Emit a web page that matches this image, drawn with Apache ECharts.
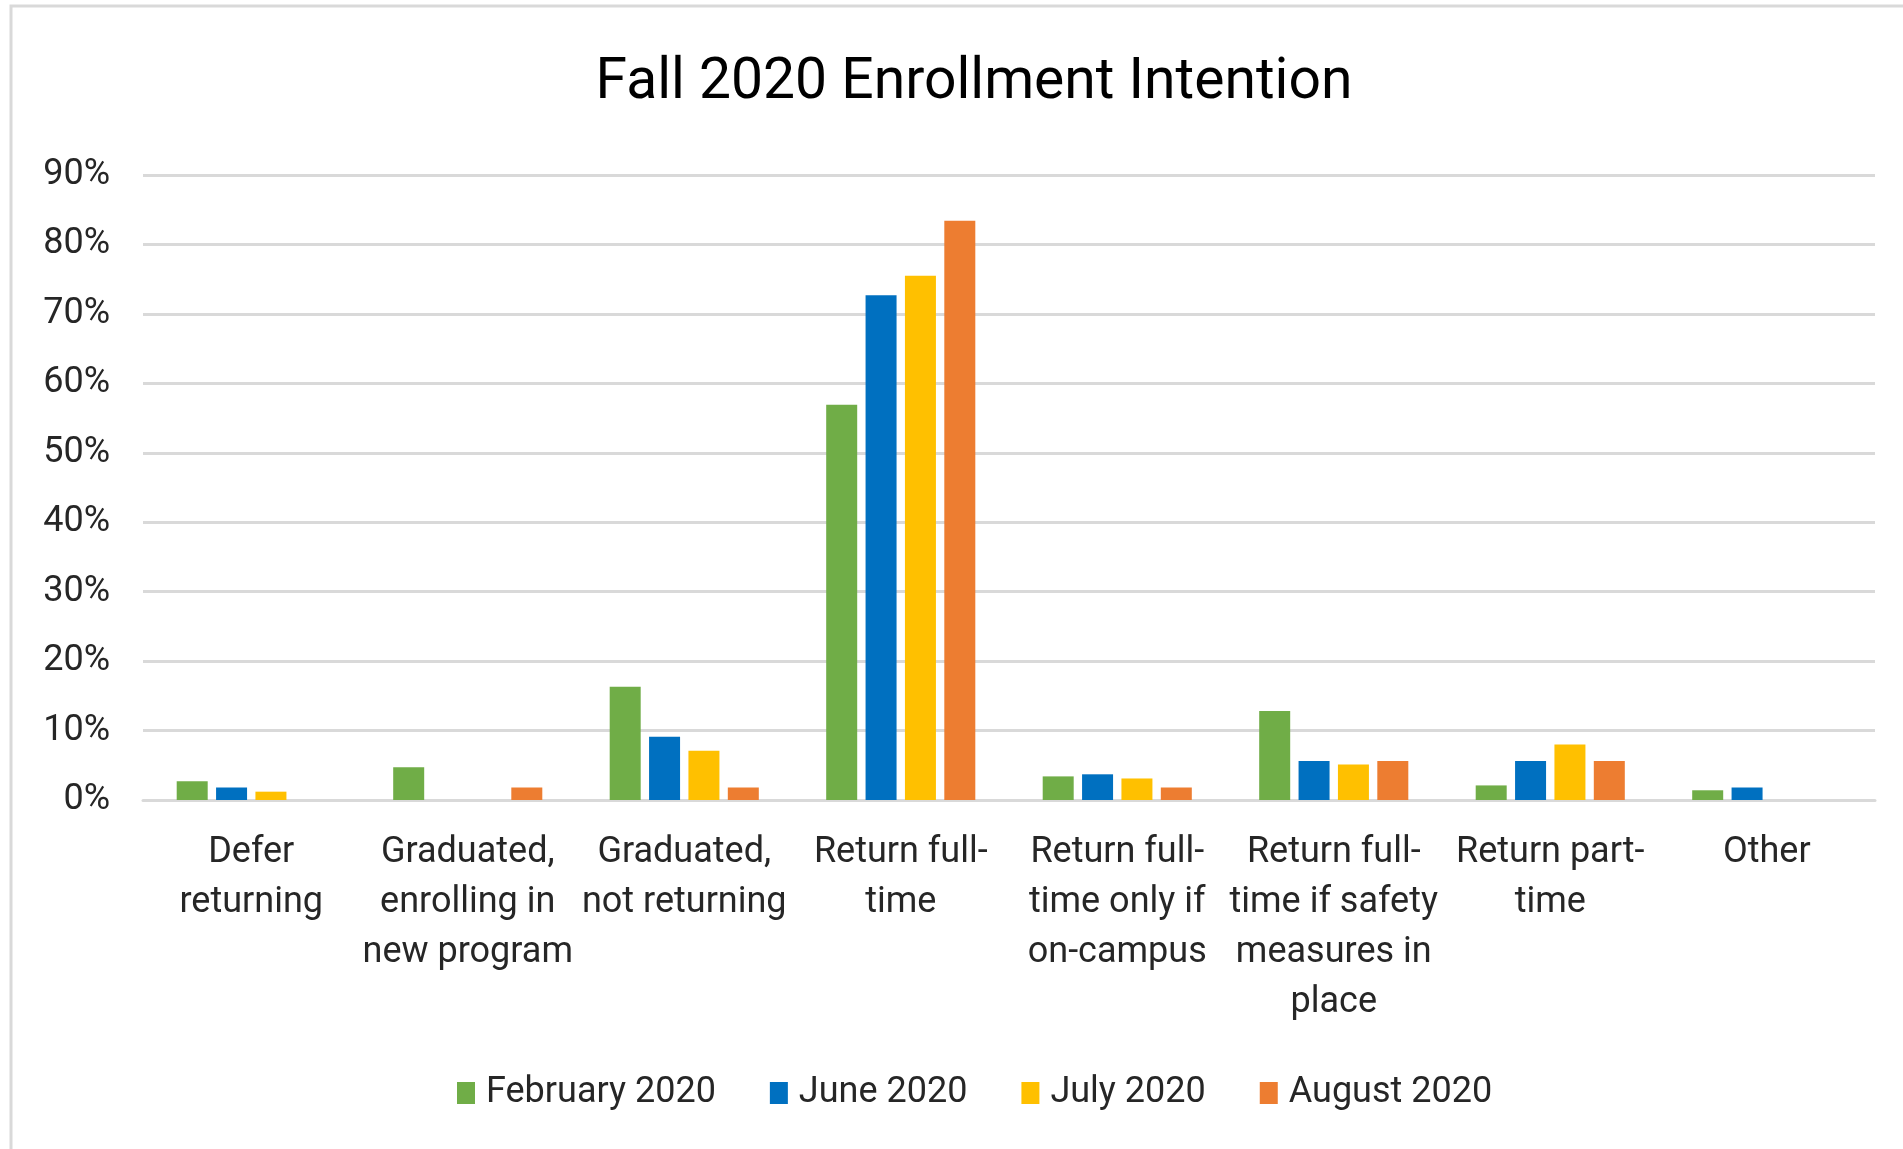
<!DOCTYPE html>
<html>
<head>
<meta charset="utf-8">
<script src="https://cdn.jsdelivr.net/npm/echarts@6/dist/echarts.min.js"></script>
<style>
html,body{margin:0;padding:0;background:#fff;}
#chart{width:1903px;height:1149px;}
</style>
</head>
<body>
<div id="chart"></div>
<script>
var titleText = 'Fall 2020 Enrollment Intention';
var categories = [
  'Defer\nreturning',
  'Graduated,\nenrolling in\nnew program',
  'Graduated,\nnot returning',
  'Return full-\ntime',
  'Return full-\ntime only if\non-campus',
  'Return full-\ntime if safety\nmeasures in\nplace',
  'Return part-\ntime',
  'Other'
];
var seriesNames = ['February 2020', 'June 2020', 'July 2020', 'August 2020'];
var feb2020 = [2.7, 4.7, 16.3, 56.9, 3.4, 12.8, 2.1, 1.4];
var jun2020 = [1.8, null, 9.1, 72.7, 3.7, 5.6, 5.6, 1.8];
var jul2020 = [1.2, null, 7.1, 75.5, 3.1, 5.1, 8.0, null];
var aug2020 = [null, 1.8, 1.8, 83.4, 1.8, 5.6, 5.6, null];
var colors = ['#70AD47', '#0070C0', '#FFC000', '#ED7D31'];

var FONT = 'Roboto, "Liberation Sans", sans-serif';
var chart = echarts.init(document.getElementById('chart'));
var allData = [feb2020, jun2020, jul2020, aug2020];
var series = seriesNames.map(function (n, i) {
  return {
    name: n,
    type: 'bar',
    data: allData[i],
    barWidth: 31,
    barGap: '27%',
    itemStyle: { color: colors[i] }
  };
});
chart.setOption({
  animation: false,
  color: colors,
  textStyle: { fontFamily: FONT },
  title: {
    text: titleText,
    left: 969,
    textAlign: 'center',
    top: 50,
    textStyle: { fontFamily: FONT, fontSize: 57, fontWeight: 'normal', color: '#000' }
  },
  graphic: [{
    type: 'rect',
    shape: { x: 11, y: 6, width: 2400, height: 2400 },
    style: { fill: 'none', stroke: '#d9d9d9', lineWidth: 3 },
    silent: true
  }],
  legend: {
    data: seriesNames,
    left: 452,
    top: 1070,
    icon: 'rect',
    itemWidth: 18,
    itemHeight: 22,
    itemGap: 54,
    textStyle: { fontFamily: FONT, fontSize: 36, color: '#262626', padding: [0, 0, 0, 6] }
  },
  grid: { left: 143, right: 28, top: 175, bottom: 349, containLabel: false },
  xAxis: {
    type: 'category',
    data: categories,
    axisTick: { show: false },
    axisLine: { lineStyle: { color: '#d9d9d9', width: 3 } },
    axisLabel: {
      interval: 0,
      margin: 28,
      fontFamily: FONT,
      fontSize: 36,
      lineHeight: 50,
      color: '#262626'
    }
  },
  yAxis: {
    type: 'value',
    min: 0,
    max: 90,
    interval: 10,
    axisLine: { show: false },
    axisTick: { show: false },
    splitLine: { lineStyle: { color: '#d9d9d9', width: 3 } },
    axisLabel: {
      formatter: '{value}%',
      margin: 33,
      fontFamily: FONT,
      fontSize: 36,
      color: '#262626'
    }
  },
  series: series
});
</script>
</body>
</html>
